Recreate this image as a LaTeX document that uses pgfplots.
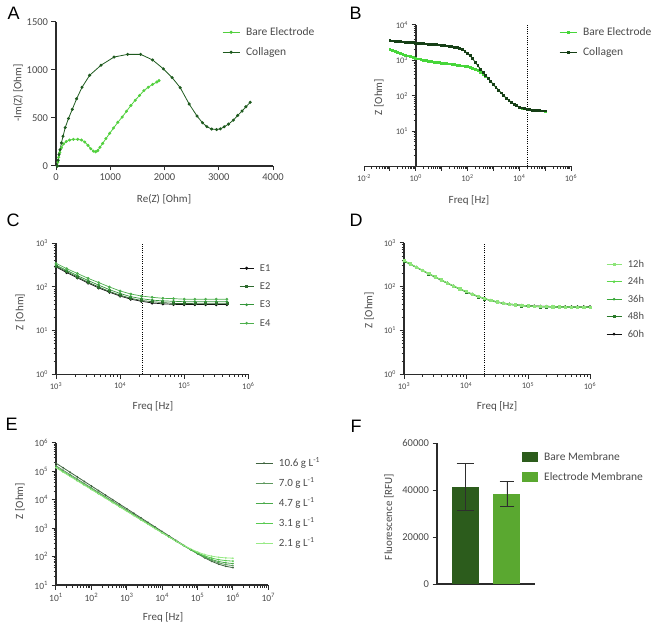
\documentclass[border=0pt]{standalone}
\usepackage{fontspec}
\setmainfont{Carlito}
\newfontfamily\letterfont{Liberation Sans}
\usepackage{pgfplots}
\usepackage{pgfplotstable}
\pgfplotsset{compat=1.18}
\definecolor{axc}{HTML}{2B2B2B}
\definecolor{txtc}{HTML}{4A4A4A}
\definecolor{bareA}{HTML}{52D03E}
\definecolor{collA}{HTML}{1E5A1E}
\definecolor{bareB}{HTML}{47D63A}
\definecolor{collB}{HTML}{163F16}
\definecolor{cE1}{HTML}{111111}
\definecolor{cE2}{HTML}{2E6A2E}
\definecolor{cE3}{HTML}{34963A}
\definecolor{cE4}{HTML}{4DAF4D}
\definecolor{d12}{HTML}{8EE57A}
\definecolor{d24}{HTML}{5CD84A}
\definecolor{d36}{HTML}{3AA83A}
\definecolor{d48}{HTML}{2A7A2A}
\definecolor{d60}{HTML}{111111}
\definecolor{g106}{HTML}{3F633F}
\definecolor{g70}{HTML}{5E985E}
\definecolor{g47}{HTML}{4AAA4A}
\definecolor{g31}{HTML}{58CA50}
\definecolor{g21}{HTML}{98EA86}
\definecolor{barA}{HTML}{2C5C1C}
\definecolor{barB}{HTML}{5AA830}
\definecolor{errc}{HTML}{2E2E2E}

\pgfplotsset{
  gp/.style={
    scale only axis, anchor=south west, clip=false,
    axis x line=bottom, axis y line=left,
    axis line style={-, line width=1.2pt, draw=axc},
    tick style={line width=1pt, draw=axc},
    minor tick style={line width=0.8pt, draw=axc},
    tick align=outside,
    major tick length=4.5pt, minor tick length=2.5pt,
    ticklabel style={text=txtc},
    label style={font=\fontsize{11}{13}\selectfont, text=txtc, anchor=center},
    /pgf/number format/assume math mode=true,
    /pgf/number format/set thousands separator={},
    scaled ticks=false,
    legend cell align=left,
    legend style={draw=none, fill=none, text=txtc, inner sep=0pt, anchor=north west,
      nodes={inner sep=1pt, text height=8pt, text depth=2pt},
      /tikz/every odd column/.append style={column sep=5pt}},
  },
  mxB/.style={minor xtick={2e-2,3e-2,4e-2,5e-2,6e-2,7e-2,8e-2,9e-2,2e-1,3e-1,4e-1,5e-1,6e-1,7e-1,8e-1,9e-1,2,3,4,5,6,7,8,9,20,30,40,50,60,70,80,90,200,300,400,500,600,700,800,900,2e3,3e3,4e3,5e3,6e3,7e3,8e3,9e3,2e4,3e4,4e4,5e4,6e4,7e4,8e4,9e4,2e5,3e5,4e5,5e5,6e5,7e5,8e5,9e5}},
  myB/.style={minor ytick={2,3,4,5,6,7,8,9,20,30,40,50,60,70,80,90,200,300,400,500,600,700,800,900,2e3,3e3,4e3,5e3,6e3,7e3,8e3,9e3}},
  mxC/.style={minor xtick={2e3,3e3,4e3,5e3,6e3,7e3,8e3,9e3,2e4,3e4,4e4,5e4,6e4,7e4,8e4,9e4,2e5,3e5,4e5,5e5,6e5,7e5,8e5,9e5}},
  myC/.style={minor ytick={2,3,4,5,6,7,8,9,20,30,40,50,60,70,80,90,200,300,400,500,600,700,800,900}},
  mxE/.style={minor xtick={20,30,40,50,60,70,80,90,200,300,400,500,600,700,800,900,2e3,3e3,4e3,5e3,6e3,7e3,8e3,9e3,2e4,3e4,4e4,5e4,6e4,7e4,8e4,9e4,2e5,3e5,4e5,5e5,6e5,7e5,8e5,9e5,2e6,3e6,4e6,5e6,6e6,7e6,8e6,9e6}},
  myE/.style={minor ytick={20,30,40,50,60,70,80,90,200,300,400,500,600,700,800,900,2e3,3e3,4e3,5e3,6e3,7e3,8e3,9e3,2e4,3e4,4e4,5e4,6e4,7e4,8e4,9e4,2e5,3e5,4e5,5e5,6e5,7e5,8e5,9e5}},
}

\pgfplotstableread{
f bare coll
1.000e-1 2089 3631
1.259e-1 1941 3573
1.585e-1 1807 3516
1.995e-1 1687 3459
2.512e-1 1578 3404
3.162e-1 1479 3350
3.981e-1 1403 3296
5.012e-1 1330 3243
6.310e-1 1265 3192
7.943e-1 1205 3141
1.000e0 1148 3090
1.259e0 1102 3048
1.585e0 1057 3006
1.995e0 1016 2965
2.512e0 979 2924
3.162e0 944 2884
3.981e0 920 2844
5.012e0 899 2805
6.310e0 879 2767
7.943e0 859 2729
1.000e1 841 2692
1.259e1 824 2636
1.585e1 807 2582
1.995e1 791 2512
2.512e1 774 2455
3.162e1 759 2388
3.981e1 740 2280
5.012e1 719 2138
6.310e1 700 1995
7.943e1 681 1820
1.000e2 661 1585
1.259e2 631 1349
1.585e2 598 1109
1.995e2 562 891
2.512e2 511 708
3.162e2 457 569
3.981e2 407 459
5.012e2 361 375
6.310e2 305 308
7.943e2 252 254
1.000e3 208 209
1.259e3 173 174
1.585e3 144 145
1.995e3 120 121
2.512e3 100 101
3.162e3 84.5 85.1
3.981e3 73.8 74.1
5.012e3 65.0 65.3
6.310e3 58.0 58.2
7.943e3 52.3 52.5
1.000e4 47.7 47.9
1.259e4 45.0 45.2
1.585e4 43.0 43.2
1.995e4 41.3 41.5
2.512e4 40.1 40.3
3.162e4 39.2 39.4
3.981e4 38.5 38.7
5.012e4 38.0 38.2
6.310e4 37.6 37.8
7.943e4 37.2 37.4
1.000e5 37.0 37.2
}\tableB

\pgfplotstableread{
f e1 e2 e3 e4
1.000e3 288 302 316 347
1.468e3 214 224 240 263
2.154e3 162 170 182 204
3.162e3 123 129 141 158
4.642e3 95 100 110 126
6.813e3 76 79 87 100
1.000e4 62 65 71 81
1.468e4 52.5 55 60 69
2.154e4 47 49 54 62
3.162e4 43 46 50 58
4.642e4 41 44 48 55
6.813e4 40 42 47 54
1.000e5 39.5 42 46 52.5
1.468e5 39.5 41.5 46 52.5
2.154e5 39.5 41.5 46 52.5
3.162e5 39.5 41.5 46 52.5
4.642e5 39.5 41.5 46 52.5
}\tableC

\pgfplotstableread{
f h12 h24 h36 h48 h60
1.000e3 389.5 393.4 385.6 381.7 387.6
1.259e3 328.3 331.6 325.0 321.7 326.7
1.585e3 276.8 279.6 274.0 271.3 275.4
1.995e3 233.6 235.9 231.3 228.9 232.4
2.512e3 197.4 199.4 195.4 193.5 196.4
3.162e3 167.1 168.8 165.4 163.8 166.3
3.981e3 141.8 143.2 140.4 139.0 141.1
5.012e3 120.7 121.9 119.5 118.3 120.1
6.310e3 103.2 104.2 102.2 101.1 102.7
7.943e3 88.8 89.7 87.9 87.0 88.4
1.000e4 76.9 77.7 76.1 75.4 76.6
1.259e4 67.3 68.0 66.6 66.0 67.1
1.585e4 59.5 60.1 58.9 58.3 59.4
1.995e4 53.3 53.8 52.8 52.2 53.3
2.512e4 48.5 49.0 48.0 47.5 48.6
3.162e4 44.8 45.2 44.4 43.9 45.0
3.981e4 41.9 42.3 41.5 41.1 42.2
5.012e4 39.8 40.2 39.4 39.0 40.2
6.310e4 38.2 38.6 37.8 37.4 38.7
7.943e4 37.0 37.4 36.6 36.3 37.6
1.000e5 36.2 36.6 35.8 35.5 36.8
1.259e5 35.5 35.9 35.1 34.8 36.2
1.585e5 35.1 35.5 34.7 34.4 35.8
1.995e5 34.8 35.1 34.5 34.1 35.5
2.512e5 34.6 34.9 34.3 33.9 35.3
3.162e5 34.4 34.7 34.1 33.7 35.1
3.981e5 34.3 34.6 34.0 33.6 35.0
5.012e5 34.2 34.5 33.9 33.5 34.9
6.310e5 34.1 34.4 33.8 33.4 34.9
7.943e5 34.1 34.4 33.8 33.4 34.9
1.000e6 34.0 34.3 33.7 33.3 34.8
}\tableD

\pgfplotstableread{
f a106 a70 a47 a31 a21
1.000e1 190500 154900 138000 134900 131800
1.585e1 131800 108200 96920 94840 92770
2.512e1 91200 75640 68050 66680 65280
3.981e1 63100 52870 47780 46880 45940
6.310e1 43650 36950 33540 32960 32330
1.000e2 30200 25820 23550 23170 22750
1.585e2 20890 18050 16540 16290 16010
2.512e2 14450 12610 11610 11460 11270
3.981e2 10000 8815 8151 8054 7930
6.310e2 6918 6161 5723 5662 5580
1.000e3 4786 4305 4018 3981 3926
1.585e3 3311 3009 2821 2799 2763
2.512e3 2291 2103 1981 1968 1944
3.981e3 1585 1470 1392 1386 1371
6.310e3 1096 1028 978 975 967
1.000e4 760 719 688 687 683
1.585e4 526 504 484 485 484
2.512e4 365 353 342 345 346
3.981e4 254 249 243 247 251
6.310e4 178 177 175 180 187
1.000e5 125 127 129 135 145
1.585e5 90.7 94.3 97.8 106 118
2.512e5 67.9 73.0 78.3 87.9 103
3.981e5 53.7 59.8 66.7 77.6 94.3
6.310e5 45.3 52.1 60.2 72.0 89.7
1.000e6 40.8 47.9 56.6 69.0 87.4
}\tableE

\begin{document}
\begin{tikzpicture}[x=1pt,y=1pt]
\useasboundingbox (0,0) rectangle (656,625);

% ---------------- A ----------------
\begin{axis}[gp, at={(56pt,459pt)}, width=217pt, height=144pt,
  xmin=0, xmax=4000, ymin=0, ymax=1500,
  xtick={0,1000,2000,3000,4000}, ytick={0,500,1000,1500},
  ticklabel style={font=\fontsize{10.5}{12}\selectfont},
  xlabel={Re(Z) [Ohm]}, ylabel={-Im(Z) [Ohm]},
  xlabel style={at={(axis description cs:0.498,-0.233)}},
  ylabel style={at={(axis description cs:-0.175,0.507)}},
  legend style={at={(axis description cs:0.765,0.972)}, row sep=8pt,
    font=\fontsize{11.5}{13}\selectfont},
]
\addplot[color=bareA, line width=0.8pt, mark=*, mark size=1.1pt] coordinates {
(25,0)(35,40)(50,90)(70,140)(100,190)(140,230)(190,255)(250,270)(320,278)(400,278)
(470,270)(530,250)(590,215)(640,180)(690,155)(730,148)(770,160)(810,195)(860,235)
(920,285)(990,340)(1060,395)(1140,455)(1220,510)(1300,570)(1380,630)(1460,685)
(1540,735)(1620,785)(1700,820)(1780,850)(1860,875)(1900,890)};
\addlegendentry{Bare Electrode}
\addplot[color=collA, line width=0.8pt, mark=*, mark size=1.1pt] coordinates {
(25,0)(40,60)(55,120)(75,170)(100,240)(130,310)(170,400)(230,495)(300,590)(380,700)
(480,820)(620,945)(830,1050)(1070,1135)(1320,1163)(1560,1163)(1780,1105)(1980,1012)
(2140,921)(2290,816)(2455,645)(2600,520)(2700,450)(2780,410)(2870,385)(2960,380)
(3030,387)(3100,408)(3180,436)(3270,478)(3350,527)(3430,572)(3500,617)(3580,663)};
\addlegendentry{Collagen}
\end{axis}
\node[anchor=base west, font=\letterfont\fontsize{18}{20}\selectfont] at (4,605) {A};

% ---------------- B ----------------
\begin{axis}[gp, at={(364pt,458.5pt)}, width=207pt, height=141.5pt,
  xmode=log, ymode=log, xmin=1e-2, xmax=1e6, ymin=1, ymax=1e4,
  axis y line shift=-52pt,
  xtick={1e-2,1e-1,1,1e1,1e2,1e3,1e4,1e5,1e6},
  xticklabels={10\textsuperscript{-2},,10\textsuperscript{0},,10\textsuperscript{2},,10\textsuperscript{4},,10\textsuperscript{6}},
  mxB, myB,
  ytick={1,10,100,1000,10000},
  yticklabels={,10\textsuperscript{1},10\textsuperscript{2},10\textsuperscript{3},10\textsuperscript{4}},
  ticklabel style={font=\fontsize{8.5}{10}\selectfont},
  xlabel={Freq [Hz]}, ylabel={Z [Ohm]},
  xlabel style={at={(axis description cs:0.507,-0.237)}},
  ylabel style={at={(axis description cs:0.0725,0.491)}},
  legend style={at={(axis description cs:0.942,0.993)}, row sep=8pt,
    font=\fontsize{11.5}{13}\selectfont},
]
\addplot[color=bareB, line width=0.8pt, mark=square*, mark size=0.9pt] table[x=f, y=bare] {\tableB};
\addlegendentry{Bare Electrode}
\addplot[color=collB, line width=0.8pt, mark=square*, mark size=0.9pt] table[x=f, y=coll] {\tableB};
\addlegendentry{Collagen}
\addplot[black, line width=1pt, dash pattern=on 1pt off 1.2pt, forget plot] coordinates {(2e4,1) (2e4,1e4)};
\end{axis}
\node[anchor=base west, font=\letterfont\fontsize{18}{20}\selectfont] at (346,605) {B};

% ---------------- C ----------------
\begin{axis}[gp, at={(56pt,250.7pt)}, width=192.3pt, height=131pt,
  xmode=log, ymode=log, xmin=1e3, xmax=1e6, ymin=1, ymax=1e3,
  xtick={1e3,1e4,1e5,1e6},
  xticklabels={10\textsuperscript{3},10\textsuperscript{4},10\textsuperscript{5},10\textsuperscript{6}},
  mxC, myC,
  ytick={1,10,100,1000},
  yticklabels={10\textsuperscript{0},10\textsuperscript{1},10\textsuperscript{2},10\textsuperscript{3}},
  ticklabel style={font=\fontsize{8.5}{10}\selectfont},
  xlabel={Freq [Hz]}, ylabel={Z [Ohm]},
  xlabel style={at={(axis description cs:0.504,-0.242)}},
  ylabel style={at={(axis description cs:-0.187,0.476)}},
  legend image code/.code={\draw[mark repeat=2,mark phase=2,#1] plot coordinates {(0pt,0pt)(7pt,0pt)(14pt,0pt)};},
  legend style={at={(axis description cs:0.952,0.857)}, row sep=6.3pt,
    font=\fontsize{10.5}{12}\selectfont},
]
\addplot[color=cE1, line width=0.7pt, mark=*, mark size=1.2pt] table[x=f, y=e1] {\tableC};
\addlegendentry{E1}
\addplot[color=cE2, line width=0.7pt, mark=square*, mark size=1.0pt] table[x=f, y=e2] {\tableC};
\addlegendentry{E2}
\addplot[color=cE3, line width=0.7pt, mark=*, mark size=1.0pt] table[x=f, y=e3] {\tableC};
\addlegendentry{E3}
\addplot[color=cE4, line width=0.7pt, mark=*, mark size=1.0pt] table[x=f, y=e4] {\tableC};
\addlegendentry{E4}
\addplot[black, line width=1pt, dash pattern=on 1pt off 1.2pt, forget plot] coordinates {(2.25e4,1) (2.25e4,1e3)};
\end{axis}
\node[anchor=base west, font=\letterfont\fontsize{18}{20}\selectfont] at (3,398) {C};

% ---------------- D ----------------
\begin{axis}[gp, at={(404pt,250.7pt)}, width=186pt, height=131.6pt,
  xmode=log, ymode=log, xmin=1e3, xmax=1e6, ymin=1, ymax=1e3,
  xtick={1e3,1e4,1e5,1e6},
  xticklabels={10\textsuperscript{3},10\textsuperscript{4},10\textsuperscript{5},10\textsuperscript{6}},
  mxC, myC,
  ytick={1,10,100,1000},
  yticklabels={10\textsuperscript{0},10\textsuperscript{1},10\textsuperscript{2},10\textsuperscript{3}},
  ticklabel style={font=\fontsize{8.5}{10}\selectfont},
  xlabel={Freq [Hz]}, ylabel={Z [Ohm]},
  xlabel style={at={(axis description cs:0.5,-0.241)}},
  ylabel style={at={(axis description cs:-0.188,0.489)}},
  reverse legend,
  legend image code/.code={\draw[mark repeat=2,mark phase=2,#1] plot coordinates {(0pt,0pt)(7.5pt,0pt)(15pt,0pt)};},
  legend style={at={(axis description cs:1.086,0.884)}, row sep=5.5pt,
    font=\fontsize{10.5}{12}\selectfont},
]
\addplot[color=d60, line width=0.7pt, mark=*, mark size=1.0pt] table[x=f, y=h60] {\tableD};
\addlegendentry{60h}
\addplot[color=d48, line width=0.7pt, mark=square*, mark size=1.0pt] table[x=f, y=h48] {\tableD};
\addlegendentry{48h}
\addplot[color=d36, line width=0.7pt, mark=*, mark size=0.9pt] table[x=f, y=h36] {\tableD};
\addlegendentry{36h}
\addplot[color=d24, line width=0.7pt, mark=*, mark size=0.9pt] table[x=f, y=h24] {\tableD};
\addlegendentry{24h}
\addplot[color=d12, line width=0.7pt, mark=square*, mark size=1.1pt] table[x=f, y=h12] {\tableD};
\addlegendentry{12h}
\addplot[black, line width=1pt, dash pattern=on 1pt off 1.2pt, forget plot] coordinates {(2e4,1) (2e4,1e3)};
\end{axis}
\node[anchor=base west, font=\letterfont\fontsize{18}{20}\selectfont] at (346,398) {D};

% ---------------- E ----------------
\begin{axis}[gp, at={(56pt,40pt)}, width=212.3pt, height=142.3pt,
  xmode=log, ymode=log, xmin=1e1, xmax=1e7, ymin=1e1, ymax=1e6,
  xtick={1e1,1e2,1e3,1e4,1e5,1e6,1e7},
  xticklabels={10\textsuperscript{1},10\textsuperscript{2},10\textsuperscript{3},10\textsuperscript{4},10\textsuperscript{5},10\textsuperscript{6},10\textsuperscript{7}},
  mxE, myE,
  ytick={1e1,1e2,1e3,1e4,1e5,1e6},
  yticklabels={10\textsuperscript{1},10\textsuperscript{2},10\textsuperscript{3},10\textsuperscript{4},10\textsuperscript{5},10\textsuperscript{6}},
  ticklabel style={font=\fontsize{9.5}{11}\selectfont},
  xlabel={Freq [Hz]}, ylabel={Z [Ohm]},
  xlabel style={at={(axis description cs:0.504,-0.225)}},
  ylabel style={at={(axis description cs:-0.17,0.59)}},
  legend style={at={(axis description cs:0.937,0.9)}, row sep=8pt,
    font=\fontsize{11}{13}\selectfont},
]
\addplot[color=g106, line width=0.8pt, mark=*, mark size=0.4pt] table[x=f, y=a106] {\tableE};
\addlegendentry{10.6 g L\textsuperscript{-1}}
\addplot[color=g70, line width=0.8pt, mark=*, mark size=0.4pt] table[x=f, y=a70] {\tableE};
\addlegendentry{7.0 g L\textsuperscript{-1}}
\addplot[color=g47, line width=0.8pt, mark=*, mark size=0.4pt] table[x=f, y=a47] {\tableE};
\addlegendentry{4.7 g L\textsuperscript{-1}}
\addplot[color=g31, line width=0.8pt, mark=*, mark size=0.4pt] table[x=f, y=a31] {\tableE};
\addlegendentry{3.1 g L\textsuperscript{-1}}
\addplot[color=g21, line width=0.8pt, mark=*, mark size=0.4pt] table[x=f, y=a21] {\tableE};
\addlegendentry{2.1 g L\textsuperscript{-1}}
\end{axis}
\node[anchor=base west, font=\letterfont\fontsize{18}{20}\selectfont] at (2,195) {E};

% ---------------- F ----------------
\begin{axis}[gp, at={(437pt,41pt)}, width=98pt, height=141pt,
  xmin=0.313, xmax=2.675, ymin=0, ymax=60000,
  xtick=\empty, ytick={0,20000,40000,60000},
  ticklabel style={font=\fontsize{10.5}{12}\selectfont},
  ylabel={Fluorescence [RFU]},
  ylabel style={at={(axis description cs:-0.49,0.475)}},
  legend image code/.code={\fill[#1, draw=none] (0pt,-5pt) rectangle (16pt,5pt);},
  legend style={at={(axis description cs:0.867,0.943)}, row sep=8pt,
    font=\fontsize{11.5}{13}\selectfont},
]
\addplot[ybar, bar width=27pt, bar shift=0pt, fill=barA, draw=none,
  error bars/.cd, y dir=both, y explicit,
  error bar style={line width=0.9pt, color=errc},
  error mark options={rotate=90, mark size=8.8pt, line width=0.9pt, color=errc}]
  coordinates {(1,41200) +- (0,10000)};
\addlegendentry{Bare Membrane}
\addplot[ybar, bar width=27pt, bar shift=0pt, fill=barB, draw=none,
  error bars/.cd, y dir=both, y explicit,
  error bar style={line width=0.9pt, color=errc},
  error mark options={rotate=90, mark size=7.3pt, line width=0.9pt, color=errc}]
  coordinates {(2,38450) +- (0,5350)};
\addlegendentry{Electrode Membrane}
\end{axis}
\node[anchor=base west, font=\letterfont\fontsize{18}{20}\selectfont] at (347,193) {F};

\end{tikzpicture}
\end{document}
